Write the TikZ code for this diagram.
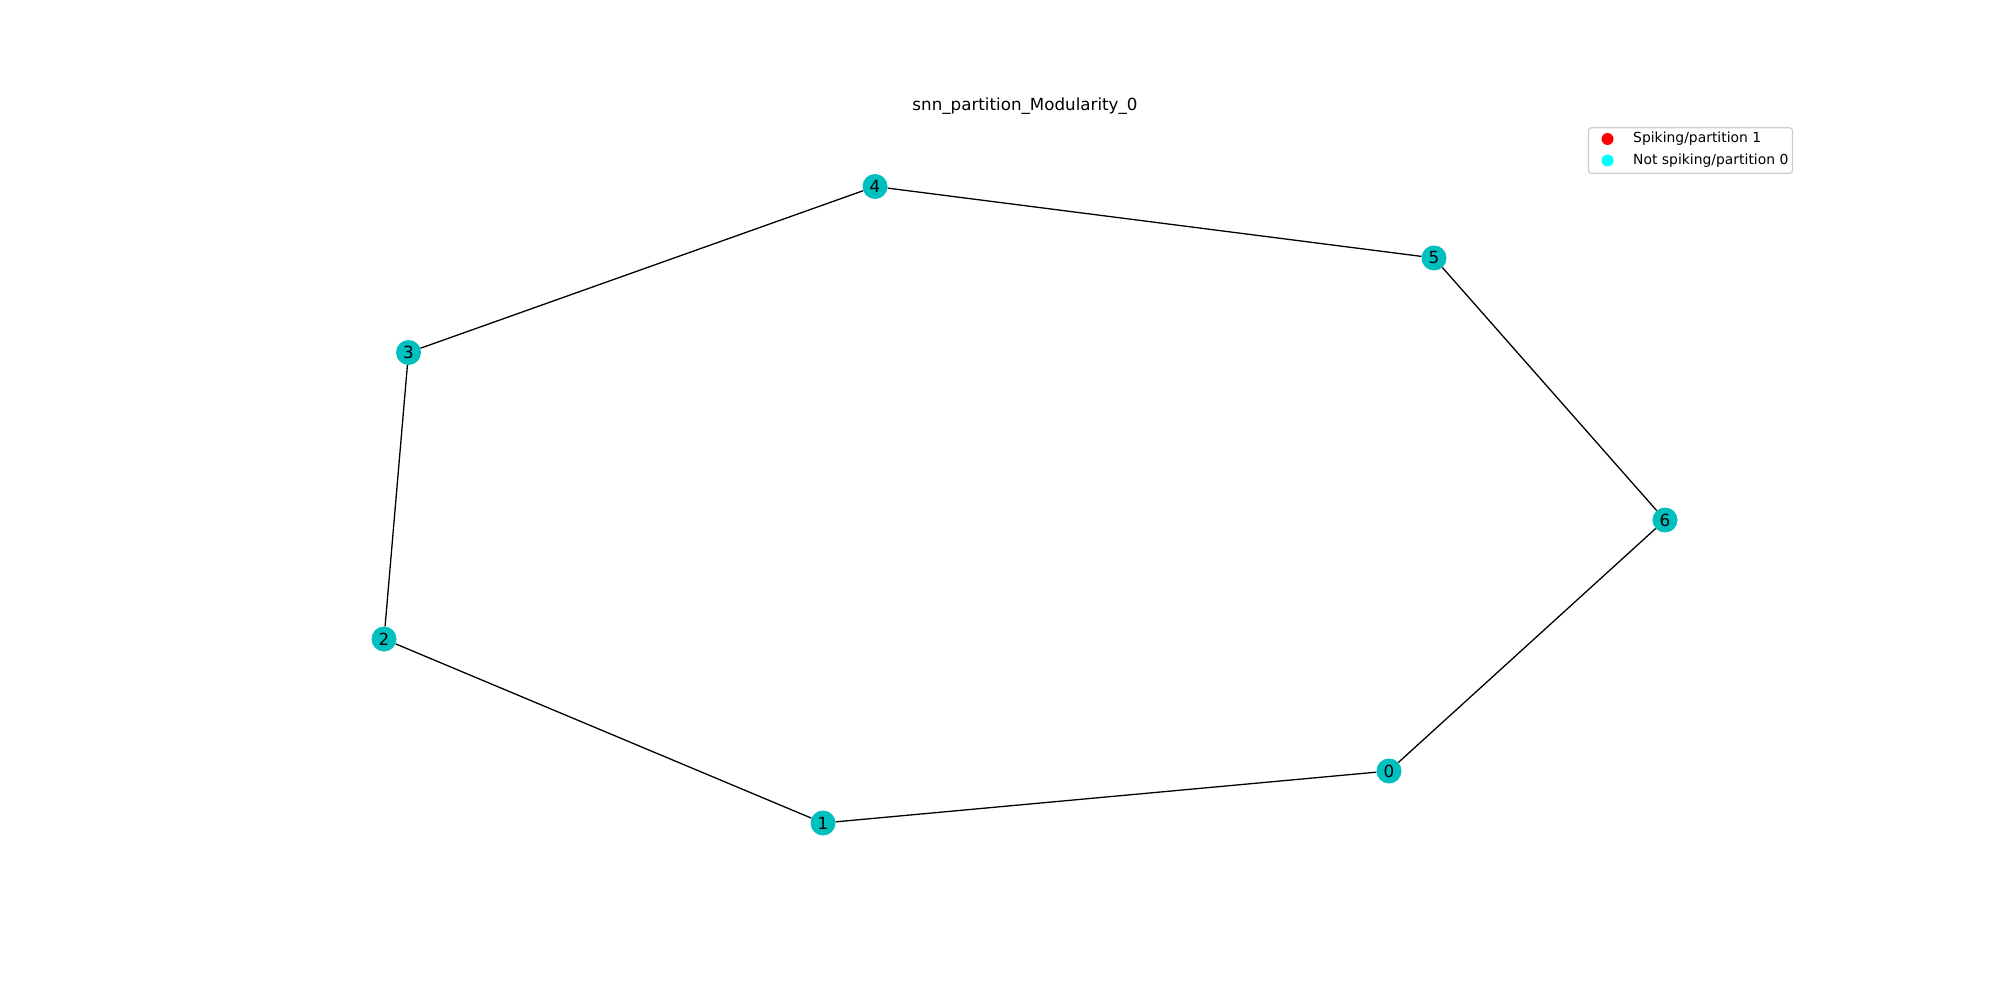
\documentclass[tikz,border=0pt]{standalone}
\usepackage{fontspec}
\setmainfont{DejaVu Sans}
\definecolor{nodec}{rgb}{0,0.75,0.75}
\definecolor{legcyan}{rgb}{0,1,1}
\definecolor{legred}{rgb}{1,0,0}
\definecolor{legedge}{rgb}{0.8,0.8,0.8}
\begin{document}
\begin{tikzpicture}[x=1pt,y=-1pt,
  vert/.style={circle,fill=nodec,draw=none,minimum size=25pt,inner sep=0pt,font=\fontsize{16.7}{18}\selectfont},
  edge/.style={draw=black,line width=1.3pt},
  legdot/.style={circle,minimum size=12pt,inner sep=0pt,draw=none},
  legtext/.style={anchor=west,font=\fontsize{13.9}{15}\selectfont,inner sep=0pt}]
\useasboundingbox[fill=white] (0,0) rectangle (2000,1000);
\node[font=\fontsize{16.7}{19}\selectfont] (title) at (1025,106) {snn\_partition\_Modularity\_0};
\node[vert] (n4) at (875,186.5) {4};
\node[vert] (n5) at (1434,258) {5};
\node[vert] (n3) at (408.5,352.5) {3};
\node[vert] (n6) at (1665,520) {6};
\node[vert] (n2) at (384,639) {2};
\node[vert] (n0) at (1389,771) {0};
\node[vert] (n1) at (823,823) {1};
\begin{scope}[on background layer/.try]
\end{scope}
\draw[edge] (n0) -- (n1);
\draw[edge] (n1) -- (n2);
\draw[edge] (n2) -- (n3);
\draw[edge] (n3) -- (n4);
\draw[edge] (n4) -- (n5);
\draw[edge] (n5) -- (n6);
\draw[edge] (n6) -- (n0);
\node[draw=legedge,fill=white,rounded corners=3pt,line width=1.2pt,minimum width=204pt,minimum height=45.5pt,inner sep=0pt] (legend) at (1690.5,150.5) {};
\node[legdot,fill=legred] (d1) at (1607.5,139) {};
\node[legdot,fill=legcyan] (d2) at (1607.5,160.5) {};
\node[legtext] (t1) at (1633,139) {Spiking/partition 1};
\node[legtext] (t2) at (1633,160.5) {Not spiking/partition 0};
\end{tikzpicture}
\end{document}
